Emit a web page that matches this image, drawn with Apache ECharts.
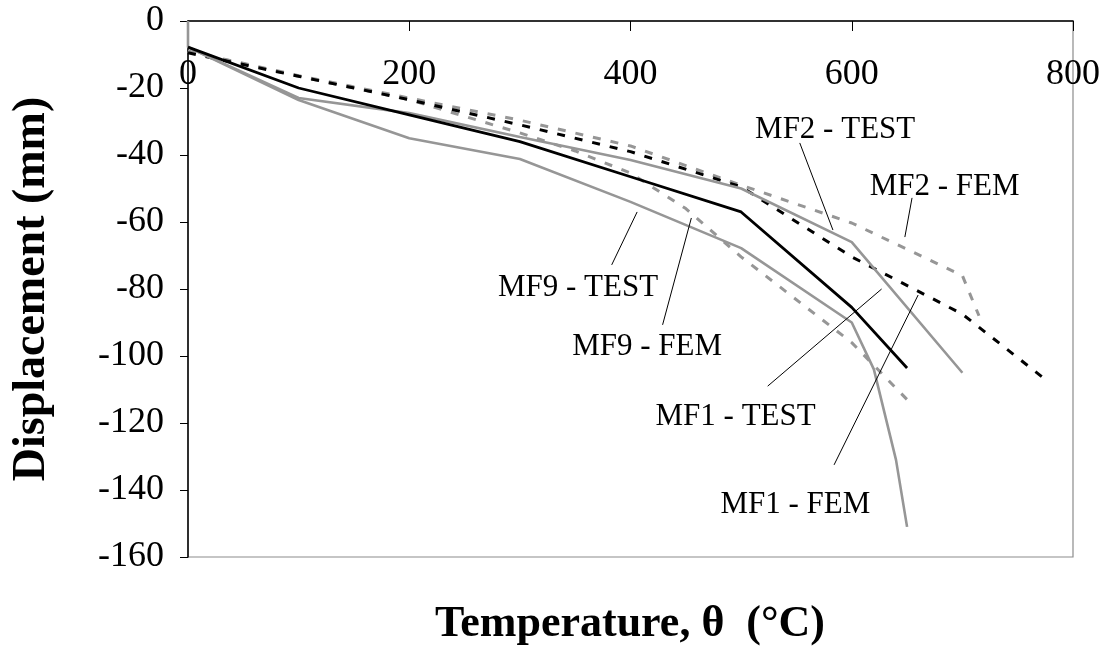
<!DOCTYPE html>
<html>
<head>
<meta charset="utf-8">
<script src="https://cdn.jsdelivr.net/npm/echarts@6/dist/echarts.min.js"></script>
<style>
  html, body { margin: 0; padding: 0; background: #fff; }
  #chart { width: 1110px; height: 657px; }
</style>
</head>
<body>
<div id="chart"></div>
<script>
// [temperature, displacement] pairs
const mf1Test = [[0, -7.8], [100, -20], [200, -28], [300, -36], [400, -46.5], [500, -57], [600, -85.5], [650, -103.6]]
const mf1Fem = [[0, -9.5], [100, -16.5], [200, -23.5], [300, -31], [400, -39], [500, -49.5], [600, -70.4], [700, -87.5], [775, -107]]
const mf2Test = [[0, 0], [0, -7.8], [100, -23], [200, -27.5], [300, -34.6], [400, -41.5], [500, -50], [600, -66], [700, -105]]
const mf2Fem = [[0, -9], [100, -16.3], [200, -23], [300, -29.6], [400, -37.3], [500, -49], [600, -60.3], [700, -76], [715, -88]]
const mf9Test = [[0, -7.8], [100, -23.6], [200, -35], [300, -41.2], [400, -54], [500, -67.8], [600, -90], [620, -104], [640, -131], [650, -151]]
const mf9Fem = [[0, -9], [100, -16.5], [200, -23.5], [300, -33.4], [350, -38.8], [400, -45.4], [450, -56], [500, -70.4], [600, -96], [650, -113]]

const xTicks = [0, 200, 400, 600, 800]
const yTicks = [0, -20, -40, -60, -80, -100, -120, -140, -160]

// annotation: label centre and leader line (start, end) in data units
const labels = {
  'MF1 - TEST': { at: [495, -118.2], from: [524, -109], to: [627, -80] },
  'MF1 - FEM': { at: [549, -144.5], from: [584, -132.5], to: [660, -81.8] },
  'MF2 - TEST': { at: [585, -32.5], from: [553, -36.4], to: [583, -62.4] },
  'MF2 - FEM': { at: [684, -49.5], from: [654.5, -52.8], to: [648, -64.5] },
  'MF9 - TEST': { at: [352.6, -79.7], from: [383, -72.8], to: [406, -57] },
  'MF9 - FEM': { at: [415, -97.3], from: [429, -90.7], to: [455, -58.8] }
}

const GRAY = '#969696'
const FONT = '"Liberation Serif", "Times New Roman", serif'

function makeSeries(name, data, color, dashed) {
  const lab = labels[name]
  return {
    name: name,
    type: 'line',
    data: data,
    symbol: 'none',
    lineStyle: {
      color: color,
      width: dashed ? 3 : (color === GRAY ? 2.6 : 2.8),
      type: dashed ? [8, 10] : 'solid'
    },
    markLine: {
      silent: true,
      symbol: ['none', 'none'],
      label: { show: false },
      lineStyle: { color: '#000', width: 1, type: 'solid' },
      data: [[{ coord: lab.from }, { coord: lab.to }]]
    },
    markPoint: {
      silent: true,
      symbol: 'circle',
      symbolSize: 0,
      label: {
        show: true,
        position: 'inside',
        formatter: name,
        color: '#000',
        fontFamily: FONT,
        fontSize: 31
      },
      data: [{ coord: lab.at }]
    }
  }
}

const chart = echarts.init(document.getElementById('chart'))

chart.setOption({
  animation: false,
  backgroundColor: '#fff',
  grid: {
    left: 188,
    right: 37,
    top: 21,
    bottom: 100,
    outerBoundsMode: 'none',
    containLabel: false,
    show: true,
    borderColor: '#8c8c8c',
    borderWidth: 1.2
  },
  xAxis: {
    type: 'value',
    position: 'top',
    min: xTicks[0],
    max: xTicks[xTicks.length - 1],
    interval: 200,
    axisLine: { onZero: false, lineStyle: { color: '#000', width: 1.5 } },
    axisTick: { inside: true, length: 10, lineStyle: { color: '#000' } },
    axisLabel: {
      inside: true,
      margin: 36,
      color: '#000',
      fontFamily: FONT,
      fontSize: 36
    },
    splitLine: { show: false }
  },
  yAxis: {
    type: 'value',
    min: yTicks[yTicks.length - 1],
    max: yTicks[0],
    interval: 20,
    name: 'Displacement (mm)',
    nameLocation: 'middle',
    nameRotate: 90,
    nameGap: 133,
    nameTextStyle: {
      color: '#000',
      fontFamily: FONT,
      fontWeight: 'bold',
      fontSize: 46
    },
    axisLine: { lineStyle: { color: '#000', width: 1.5 } },
    axisTick: { length: 8, lineStyle: { color: '#000' } },
    axisLabel: {
      margin: 24,
      color: '#000',
      fontFamily: FONT,
      fontSize: 36
    },
    splitLine: { show: false }
  },
  graphic: [{
    type: 'text',
    x: 630,
    y: 625,
    style: {
      text: 'Temperature, θ  (°C)',
      fill: '#000',
      font: 'bold 44px ' + FONT,
      textAlign: 'center',
      textVerticalAlign: 'middle'
    }
  }],
  series: [
    makeSeries('MF9 - FEM', mf9Fem, GRAY, true),
    makeSeries('MF2 - FEM', mf2Fem, GRAY, true),
    makeSeries('MF1 - FEM', mf1Fem, '#000', true),
    makeSeries('MF9 - TEST', mf9Test, GRAY, false),
    makeSeries('MF2 - TEST', mf2Test, GRAY, false),
    makeSeries('MF1 - TEST', mf1Test, '#000', false)
  ]
})
</script>
</body>
</html>
